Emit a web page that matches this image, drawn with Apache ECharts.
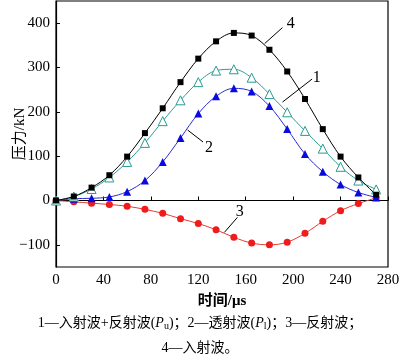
<!DOCTYPE html>
<html><head><meta charset="utf-8">
<script src="https://cdn.jsdelivr.net/npm/echarts@6/dist/echarts.min.js"></script>
<style>html,body{margin:0;padding:0;background:#fff}#c{width:400px;height:361px}</style>
</head><body><div id="c"></div>
<script>
const times = [0,15,30,45,60,75,90,105,120,135,150,165,180,195,210,225,240,255,270];
const s1 = [0,9,26,52,87,130,179,226,267,293,296,277,240,199,157,117,76,45,25];   // 1 入射波+反射波
const s2 = [0,4,5,8,20,45,87,141,196,235,253,246,213,161,105,65,36,18,7];         // 2 透射波
const s3 = [0,-3,-6,-9,-13,-20,-29,-41,-52,-66,-83,-96,-100,-94,-74,-47,-23,-7,6]; // 3 反射波
const s4 = [0,9,29,57,99,152,208,267,320,359,378,372,340,291,229,161,99,52,13];   // 4 入射波
const yTicks = [-100,0,100,200,300,400];
const xTicks = [0,40,80,120,160,200,240,280];
// leader annotations in data coordinates: label text, text position, line start, line end
const notes = [
  {t:'4', at:[198,399], a:[191,390], b:[176,354]},
  {t:'1', at:[220,276], a:[216,274], b:[191,222]},
  {t:'2', at:[129,119], a:[124,132], b:[111,159]},
  {t:'3', at:[155,-25], a:[153,-38], b:[142,-72]}
];
const pair = arr => times.map((t,i)=>[t,arr[i]]);
const serif = '"Liberation Serif","Noto Sans CJK SC",serif';
const chart = echarts.init(document.getElementById('c'));
const mk = (name,data,color,symbol,size,fill,z) => ({
  name, type:'line', data:pair(data), smooth:0.35, symbol, symbolSize:size,
  showAllSymbol:true, z,
  lineStyle:{color, width:1}, itemStyle:{color:fill, borderColor:color, borderWidth: fill==='#fff'?1:0},
  emphasis:{disabled:true}, animation:false
});
chart.setOption({
  animation:false,
  grid:{left:56,right:12,top:1,bottom:94,outerBoundsMode:'none',containLabel:false,
    show:true,borderColor:'#000',borderWidth:1.2,backgroundColor:'transparent'},
  xAxis:{type:'value',min:0,max:280,interval:40,
    axisLine:{lineStyle:{color:'#000',width:1.2}},
    axisTick:{inside:true,length:4,lineStyle:{color:'#000'},customValues:xTicks},
    axisLabel:{color:'#000',fontSize:15,fontFamily:serif,margin:6,customValues:xTicks},
    splitLine:{show:false},
    name:'时间/μs',nameLocation:'middle',nameGap:27,nameMoveOverlap:false,
    nameTextStyle:{color:'#000',fontSize:15,fontWeight:'bold',fontFamily:serif}},
  yAxis:{type:'value',min:-150,max:450,
    axisLine:{lineStyle:{color:'#000',width:1.2}},
    axisTick:{inside:true,length:4,lineStyle:{color:'#000'},customValues:yTicks},
    axisLabel:{color:'#000',fontSize:15,fontFamily:serif,margin:6,customValues:yTicks,
      formatter:v=>String(v).replace('-','\u2212')},
    splitLine:{show:false},
    name:'压力/kN',nameLocation:'middle',nameGap:28,nameMoveOverlap:false,
    nameTextStyle:{color:'#000',fontSize:15,fontFamily:serif}},
  series:[
    mk('3',s3,'#e8392f','circle',7,'#ee1c1c',3),
    mk('2',s2,'#2a2ad0','triangle',8,'#0a0ae0',4),
    mk('1',s1,'#2a9a92','triangle',9,'#fff',5),
    mk('4',s4,'#000','rect',6,'#000',6)
  ]
});
const g = [];
notes.forEach(n=>{
  const p = chart.convertToPixel({gridIndex:0}, n.at);
  const a = chart.convertToPixel({gridIndex:0}, n.a);
  const b = chart.convertToPixel({gridIndex:0}, n.b);
  g.push({type:'line',shape:{x1:a[0],y1:a[1],x2:b[0],y2:b[1]},style:{stroke:'#000',lineWidth:1},z:10});
  g.push({type:'text',x:p[0],y:p[1],style:{text:n.t,font:'16px '+serif,fill:'#000',align:'center',verticalAlign:'middle'},z:10});
});
g.push({type:'text',left:'center',top:316,style:{
  text:'1—入射波+反射波({i|P}{s|u})；2—透射波({i|P}{s|l})；3—反射波；',
  font:'14px '+serif,fill:'#000',
  rich:{i:{fontStyle:'italic',fontSize:14,fontFamily:serif},s:{fontSize:10,fontFamily:serif,padding:[7,0,0,0]}}}});
g.push({type:'text',left:'center',top:341,style:{text:'4—入射波。',font:'14px '+serif,fill:'#000'}});
chart.setOption({graphic:g});
</script></body></html>
